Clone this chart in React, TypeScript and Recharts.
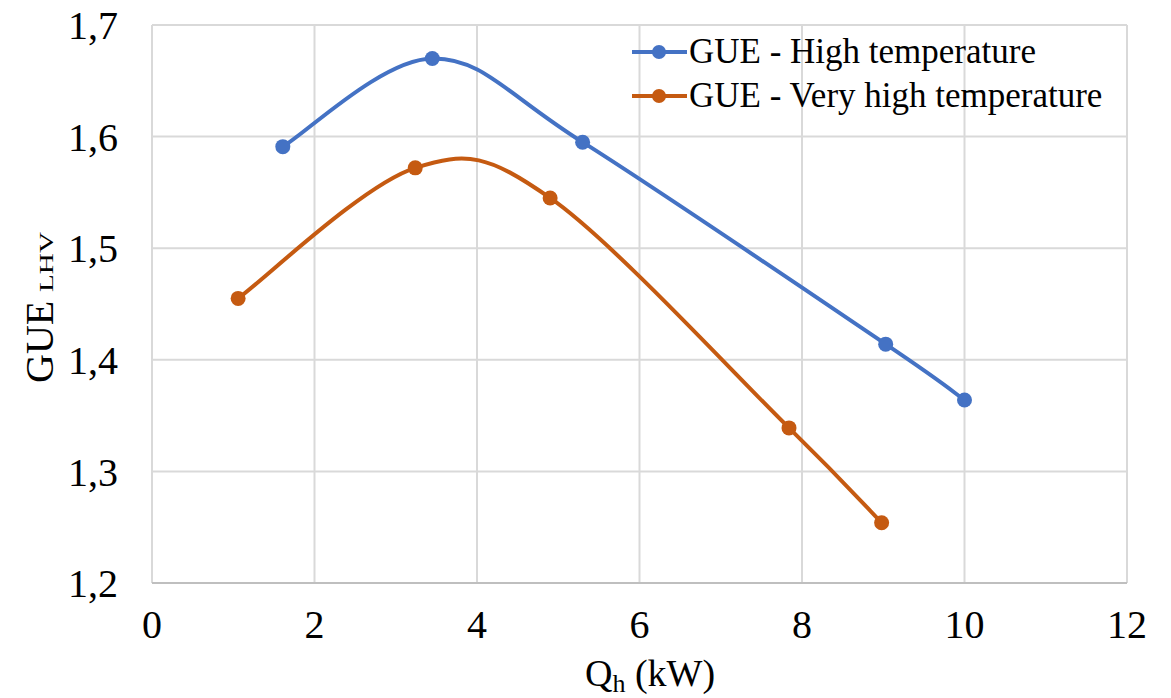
import React from "react";
import {
  LineChart,
  Line,
  XAxis,
  YAxis,
  CartesianGrid,
} from "recharts";

const HIGH_X = [1.61, 3.45, 5.3, 9.03, 10.0];
const HIGH_Y = [1.591, 1.67, 1.595, 1.414, 1.364];
const VERY_HIGH_X = [1.06, 3.24, 4.9, 7.84, 8.98];
const VERY_HIGH_Y = [1.455, 1.572, 1.545, 1.339, 1.254];

const X_TICKS = [0, 2, 4, 6, 8, 10, 12];
const Y_TICKS = [1.2, 1.3, 1.4, 1.5, 1.6, 1.7];

const SERIES_NAMES = ["GUE - High temperature", "GUE - Very high temperature"];
const COLORS = ["#4472C4", "#C55A11"];

const FONT = "'Times New Roman', 'Liberation Serif', 'DejaVu Serif', serif";

const highData = HIGH_X.map((x, i) => ({ x, y: HIGH_Y[i] }));
const veryHighData = VERY_HIGH_X.map((x, i) => ({ x, y: VERY_HIGH_Y[i] }));

// Excel-style smoothed line (Catmull-Rom, 1/6 tangents)
function excelSmooth(context: any) {
  let pts: number[][] = [];
  return {
    areaStart() {},
    areaEnd() {},
    lineStart() {
      pts = [];
    },
    point(x: number, y: number) {
      pts.push([+x, +y]);
    },
    lineEnd() {
      if (!pts.length) return;
      context.moveTo(pts[0][0], pts[0][1]);
      for (let i = 0; i < pts.length - 1; i++) {
        const p0 = pts[i - 1] || pts[i];
        const p1 = pts[i];
        const p2 = pts[i + 1];
        const p3 = pts[i + 2] || pts[i + 1];
        context.bezierCurveTo(
          p1[0] + (p2[0] - p0[0]) / 6,
          p1[1] + (p2[1] - p0[1]) / 6,
          p2[0] - (p3[0] - p1[0]) / 6,
          p2[1] - (p3[1] - p1[1]) / 6,
          p2[0],
          p2[1]
        );
      }
    },
  };
}

function LegendBox() {
  return (
    <div
      style={{
        position: "absolute",
        left: 632,
        top: 30,
        fontFamily: FONT,
        fontSize: 35,
        lineHeight: "44px",
        color: "#000",
        whiteSpace: "nowrap",
      }}
    >
      {SERIES_NAMES.map((name, i) => (
        <div key={name} style={{ display: "flex", alignItems: "center" }}>
          <svg width={55} height={20} style={{ marginRight: 2 }}>
            <line x1={0} y1={10} x2={55} y2={10} stroke={COLORS[i]} strokeWidth={4} />
            <circle cx={27} cy={10} r={7} fill={COLORS[i]} />
          </svg>
          <span>{name}</span>
        </div>
      ))}
    </div>
  );
}

function YLabel() {
  return (
    <g fontFamily={FONT} fill="#000">
      <text transform="translate(53, 383) rotate(-90)" fontSize={40}>
        GUE
      </text>
      <text
        transform="translate(53, 292) rotate(-90)"
        fontSize={18}
        textLength={60}
        lengthAdjust="spacingAndGlyphs"
      >
        LHV
      </text>
    </g>
  );
}

function XLabel() {
  return (
    <text x={650} y={686} textAnchor="middle" fontFamily={FONT} fontSize={38} fill="#000">
      Q
      <tspan fontSize={26} dy={6}>
        h
      </tspan>
      <tspan dy={-6}>{" (kW)"}</tspan>
    </text>
  );
}

const fmt = (v: number) => v.toFixed(1).replace(".", ",");

export default function App() {
  return (
    <div style={{ position: "absolute", left: 0, top: 0, width: 1171, height: 698, background: "#fff" }}>
      <LineChart
        width={1171}
        height={698}
        margin={{ top: 25, right: 44, bottom: 0, left: 0 }}
      >
        <CartesianGrid stroke="#d9d9d9" strokeWidth={2} />
        <XAxis
          type="number"
          dataKey="x"
          domain={[0, 12]}
          ticks={X_TICKS}
          axisLine={{ stroke: "#bfbfbf", strokeWidth: 2 }}
          tickLine={false}
          tickSize={0}
          tickMargin={27}
          tick={{ fontFamily: FONT, fontSize: 40, fill: "#000" }}
          height={115}
          allowDataOverflow
        />
        <YAxis
          type="number"
          dataKey="y"
          domain={[1.2, 1.7]}
          ticks={Y_TICKS}
          tickFormatter={fmt}
          axisLine={false}
          tickLine={false}
          tickSize={0}
          tickMargin={34}
          tick={{ fontFamily: FONT, fontSize: 40, fill: "#000" }}
          width={152}
        />
        <Line
          data={highData}
          dataKey="y"
          name={SERIES_NAMES[0]}
          type={excelSmooth as any}
          stroke={COLORS[0]}
          strokeWidth={4}
          dot={{ r: 7.5, fill: COLORS[0], stroke: COLORS[0], strokeWidth: 0 }}
          activeDot={false}
          isAnimationActive={false}
        />
        <Line
          data={veryHighData}
          dataKey="y"
          name={SERIES_NAMES[1]}
          type={excelSmooth as any}
          stroke={COLORS[1]}
          strokeWidth={4}
          dot={{ r: 7.5, fill: COLORS[1], stroke: COLORS[1], strokeWidth: 0 }}
          activeDot={false}
          isAnimationActive={false}
        />
        <YLabel />
        <XLabel />
      </LineChart>
      <LegendBox />
    </div>
  );
}
